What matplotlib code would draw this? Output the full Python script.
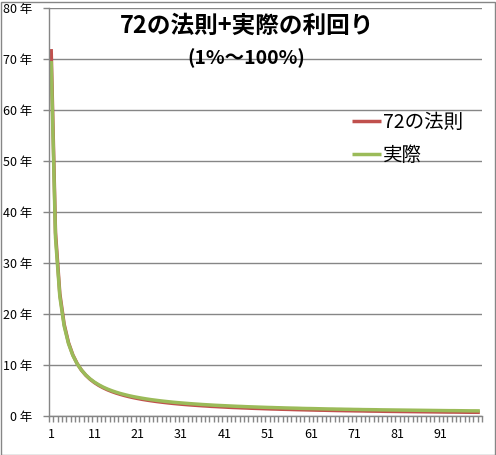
import numpy as np
import matplotlib
matplotlib.use("Agg")
import matplotlib.pyplot as plt
from matplotlib.ticker import FixedLocator

plt.rcParams['font.family'] = ['Noto Sans CJK JP', 'DejaVu Sans']

## interest rate in percent, 1..100
rates = list(range(1, 101))

## years to double, rule of 72
rule72 = [72, 36, 24, 18, 14.4, 12, 10.29, 9, 8, 7.2,
          6.55, 6, 5.54, 5.14, 4.8, 4.5, 4.24, 4, 3.79, 3.6,
          3.43, 3.27, 3.13, 3, 2.88, 2.77, 2.67, 2.57, 2.48, 2.4,
          2.32, 2.25, 2.18, 2.12, 2.06, 2, 1.95, 1.89, 1.85, 1.8,
          1.76, 1.71, 1.67, 1.64, 1.6, 1.57, 1.53, 1.5, 1.47, 1.44,
          1.41, 1.38, 1.36, 1.33, 1.31, 1.29, 1.26, 1.24, 1.22, 1.2,
          1.18, 1.16, 1.14, 1.13, 1.11, 1.09, 1.07, 1.06, 1.04, 1.03,
          1.01, 1, 0.99, 0.97, 0.96, 0.95, 0.94, 0.92, 0.91, 0.9,
          0.89, 0.88, 0.87, 0.86, 0.85, 0.84, 0.83, 0.82, 0.81, 0.8,
          0.79, 0.78, 0.77, 0.77, 0.76, 0.75, 0.74, 0.73, 0.73, 0.72]

## years to double, actual compound (green line)
actual = [69.66, 35.0, 23.45, 17.67, 14.21, 11.9, 10.24, 9.01, 8.04, 7.27,
          6.64, 6.12, 5.67, 5.29, 4.96, 4.67, 4.41, 4.19, 3.98, 3.8,
          3.64, 3.49, 3.35, 3.22, 3.11, 3.0, 2.9, 2.81, 2.72, 2.64,
          2.57, 2.5, 2.43, 2.37, 2.31, 2.25, 2.2, 2.15, 2.1, 2.06,
          2.02, 1.98, 1.94, 1.9, 1.87, 1.83, 1.8, 1.77, 1.74, 1.71,
          1.68, 1.66, 1.63, 1.61, 1.58, 1.56, 1.54, 1.52, 1.49, 1.47,
          1.46, 1.44, 1.42, 1.4, 1.38, 1.37, 1.35, 1.34, 1.32, 1.31,
          1.29, 1.28, 1.26, 1.25, 1.24, 1.23, 1.21, 1.2, 1.19, 1.18,
          1.17, 1.16, 1.15, 1.14, 1.13, 1.12, 1.11, 1.1, 1.09, 1.08,
          1.07, 1.06, 1.05, 1.05, 1.04, 1.03, 1.02, 1.01, 1.01, 1.0]

y_ticks = [0, 10, 20, 30, 40, 50, 60, 70, 80]
y_labels = [f"{v} 年" for v in y_ticks]
x_labels = [1, 11, 21, 31, 41, 51, 61, 71, 81, 91]

W, H = 496, 455
fig = plt.figure(figsize=(W / 100, H / 100), dpi=100)
fig.patch.set_facecolor('white')
## outer chart border
fig.patches.append(plt.Rectangle((0.5 / W, 0.5 / H), 1 - 2 / W, 1 - 2 / H,
                                 transform=fig.transFigure, fill=False,
                                 edgecolor='#868686', linewidth=1))

ax = fig.add_axes([49 / W, 1 - 416 / H, (482 - 49) / W, (416 - 8.3) / H])
ax.plot(rates, rule72, color='#C0504D', linewidth=2.5, label='72の法則', solid_capstyle='butt')
ax.plot(rates, actual, color='#9BBB59', linewidth=2.5, label='実際', solid_capstyle='butt')

ax.set_xlim(0.5, 100.5)
ax.set_ylim(0, 80)
ax.set_yticks(y_ticks)
ax.set_yticklabels(y_labels, fontsize=9)
ax.yaxis.grid(True, color='#868686', linewidth=1)
ax.set_axisbelow(True)

ax.xaxis.set_major_locator(FixedLocator(x_labels))
ax.set_xticklabels([str(v) for v in x_labels], fontsize=9)
ax.xaxis.set_minor_locator(FixedLocator(np.arange(0.5, 101, 1)))
ax.tick_params(axis='x', which='major', length=0, pad=9)
ax.tick_params(axis='x', which='minor', length=4, color='#868686', width=1)
ax.tick_params(axis='y', length=4, color='#868686', width=1, pad=8)

for s in ['top', 'right']:
    ax.spines[s].set_visible(False)
for s in ['left', 'bottom']:
    ax.spines[s].set_color('#868686')
    ax.spines[s].set_linewidth(1)

fig.text(247 / W, 1 - 26 / H, '72の法則+実際の利回り', fontsize=17,
         fontweight='bold', ha='center', va='center')
fig.text(246 / W, 1 - 58 / H, '(1%～100%)', fontsize=14,
         fontweight='bold', ha='center', va='center')

ax.legend(loc='upper left', bbox_to_anchor=(352 / W, 1 - 112 / H),
          bbox_transform=fig.transFigure, frameon=False, fontsize=14,
          handlelength=1.5, handletextpad=0.08, labelspacing=0.6,
          borderaxespad=0, borderpad=0)

fig.savefig('out.png', dpi=100)
